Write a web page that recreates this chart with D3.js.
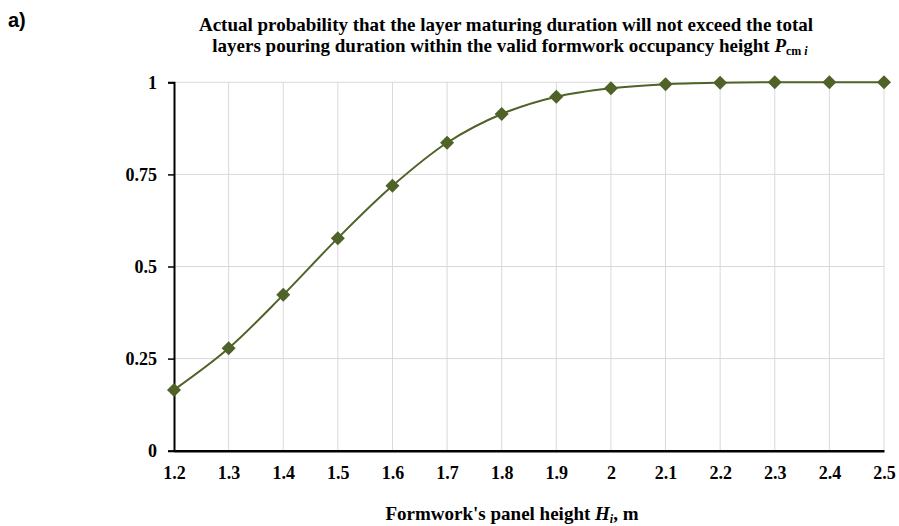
<!DOCTYPE html>
<html><head><meta charset="utf-8">
<script src="https://cdn.jsdelivr.net/npm/d3@7"></script>
<style>body{margin:0;background:#fff}</style>
</head><body>
<svg id="c" width="899" height="526"></svg>
<script>
const heights = [1.2,1.3,1.4,1.5,1.6,1.7,1.8,1.9,2.0,2.1,2.2,2.3,2.4,2.5];
const probability = [0.165,0.278,0.423,0.577,0.719,0.836,0.914,0.961,0.984,0.995,0.999,1.0,1.0,1.0];
const yTicks = [0,0.25,0.5,0.75,1];
const xTickLabels = ["1.2","1.3","1.4","1.5","1.6","1.7","1.8","1.9","2","2.1","2.2","2.3","2.4","2.5"];

const svg = d3.select("#c");
const L=174, R=884, T=82.3, B=450.7;
const x = d3.scaleLinear().domain([1.2,2.5]).range([L,R]);
const y = d3.scaleLinear().domain([0,1]).range([B,T]);
const serif = "'Liberation Serif','Times New Roman',serif";
const color = "#4f6228";

// grid
svg.append("g").selectAll("line").data(yTicks.slice(1)).join("line")
  .attr("x1",L).attr("x2",R).attr("y1",d=>y(d)).attr("y2",d=>y(d))
  .attr("stroke","#d9d9d9").attr("stroke-width",1);
svg.append("g").selectAll("line").data(heights.slice(1)).join("line")
  .attr("x1",d=>x(d)).attr("x2",d=>x(d)).attr("y1",T).attr("y2",B)
  .attr("stroke","#d9d9d9").attr("stroke-width",1);

// y axis
const ya = svg.append("g").attr("transform",`translate(${L},0)`)
  .call(d3.axisLeft(y).tickValues(yTicks).tickFormat(d=>String(d)).tickSize(6).tickPadding(11));
ya.select(".domain").attr("stroke","#000").attr("stroke-width",2);
ya.selectAll(".tick line").attr("stroke","#000").attr("stroke-width",1.5);
ya.selectAll("text").attr("font-family",serif).attr("font-weight","bold").attr("font-size",18).attr("fill","#000");

// x axis
const xa = svg.append("g").attr("transform",`translate(0,${B})`)
  .call(d3.axisBottom(x).tickValues(heights).tickFormat((d,i)=>xTickLabels[i]).tickSize(0).tickPadding(16));
xa.select(".domain").attr("stroke","#000").attr("stroke-width",2.5);
xa.selectAll("text").attr("font-family",serif).attr("font-weight","bold").attr("font-size",18).attr("fill","#000");

// line
const pts = heights.map((h,i)=>[h,probability[i]]);
svg.append("path").datum(pts)
  .attr("d", d3.line().x(d=>x(d[0])).y(d=>y(d[1])).curve(d3.curveCatmullRom.alpha(0.5)))
  .attr("fill","none").attr("stroke",color).attr("stroke-width",2);

// markers
svg.append("g").selectAll("path").data(pts).join("path")
  .attr("transform",d=>`translate(${x(d[0])},${y(d[1])})`)
  .attr("d","M0,-7L7,0L0,7L-7,0Z").attr("fill",color);

// label a)
svg.append("text").attr("x",8).attr("y",27).text("a)")
  .attr("font-family","'Liberation Sans',Arial,sans-serif").attr("font-weight","bold").attr("font-size",20);

// title
const t = svg.append("text").attr("text-anchor","middle").attr("font-family",serif)
  .attr("font-weight","bold").attr("font-size",19);
t.append("tspan").attr("x",506).attr("y",31).text("Actual probability that the layer maturing duration will not exceed the total");
const t2 = t.append("tspan").attr("x",510).attr("y",52);
t2.append("tspan").text("layers pouring duration within the valid formwork occupancy height ");
t2.append("tspan").attr("font-style","italic").text("P");
t2.append("tspan").attr("font-size",12).attr("dy",3).text("cm ");
t2.append("tspan").attr("font-size",12).attr("font-style","italic").text("i");

// x axis title
const xt = svg.append("text").attr("x",512).attr("y",520).attr("text-anchor","middle")
  .attr("font-family",serif).attr("font-weight","bold").attr("font-size",19);
xt.append("tspan").text("Formwork's panel height ");
xt.append("tspan").attr("font-style","italic").text("H");
xt.append("tspan").attr("font-style","italic").attr("font-size",12).attr("dy",3).text("i");
xt.append("tspan").attr("dy",-3).text(", m");
</script>
</body></html>
